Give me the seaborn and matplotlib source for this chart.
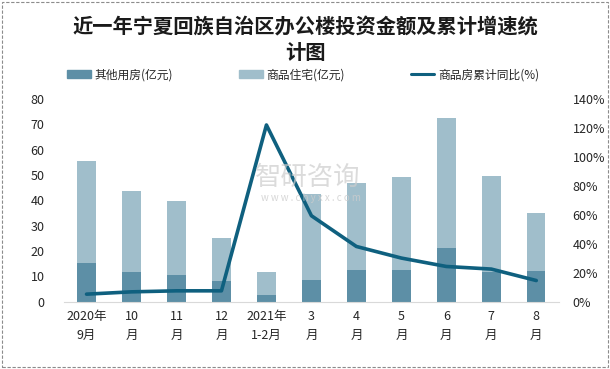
import numpy as np
import pandas as pd
import matplotlib
matplotlib.use('Agg')
import matplotlib.pyplot as plt
import seaborn as sns
from matplotlib.patches import Patch, Rectangle
from matplotlib.lines import Line2D

# dados
meses = ['2020年\n9月', '10\n月', '11\n月', '12\n月', '2021年\n1-2月',
         '3\n月', '4\n月', '5\n月', '6\n月', '7\n月', '8\n月']
outros = [15.4, 11.8, 10.7, 8.3, 2.8, 8.7, 12.6, 12.6, 21.3, 11.6, 12.2]
residencial = [40.2, 32.0, 29.2, 17.0, 9.0, 33.9, 34.2, 36.7, 51.3, 38.1, 22.9]
crescimento = [5.3, 6.9, 7.6, 7.6, 122.0, 59.4, 38.2, 30.2, 24.4, 22.6, 14.7]

sns.set_style("white")
plt.rcParams['font.family'] = ['Noto Sans CJK SC', 'DejaVu Sans']

cor_escura = '#5D8FA6'
cor_clara = '#A0BECB'
cor_linha = '#0F607F'

data = pd.DataFrame({'mes': meses, 'outros': outros, 'residencial': residencial})
data['total'] = data['outros'] + data['residencial']

fig = plt.figure(figsize=(6.1, 3.69), dpi=100)
ax = fig.add_axes([0.105, 0.182, 0.811, 0.550])

sns.barplot(data=data, x='mes', y='total', color=cor_clara, width=0.41,
            saturation=1, linewidth=0, ax=ax)
sns.barplot(data=data, x='mes', y='outros', color=cor_escura, width=0.41,
            saturation=1, linewidth=0, ax=ax)
ax.set_ylim(0, 80)
ax.set_yticks(range(0, 81, 10))
ax.set_xlim(-0.5, len(meses) - 0.5)
ax.set_xlabel('')
ax.set_ylabel('')
for s in ['top', 'left', 'right']:
    ax.spines[s].set_visible(False)
ax.spines['bottom'].set_color('#D9D9D9')
ax.tick_params(axis='y', length=0, labelsize=9, pad=14)
ax.tick_params(axis='x', length=0, labelsize=9, pad=6)
for t in ax.get_xticklabels():
    t.set_linespacing(1.6)

ax2 = ax.twinx()
sns.lineplot(x=np.arange(len(meses)), y=crescimento, color=cor_linha,
             linewidth=2.6, ax=ax2)
ax2.set_ylim(0, 140)
ax2.set_yticks(range(0, 141, 20))
ax2.set_yticklabels([f'{v}%' for v in range(0, 141, 20)])
ax2.tick_params(axis='y', length=0, labelsize=9, pad=10)
for s in ['top', 'left', 'right', 'bottom']:
    ax2.spines[s].set_visible(False)

# marca d'água
fig.text(0.505, 0.518, '智研咨询', fontsize=19, color='#CDCDCD', alpha=0.7,
         ha='center', va='center')
fig.text(0.51, 0.463, 'w w w . c h y x x . c o m', fontsize=7, color='#CDCDCD',
         alpha=0.8, ha='center', va='center')

fig.text(0.5, 0.893, '近一年宁夏回族自治区办公楼投资金额及累计增速统\n计图',
         ha='center', va='center', fontsize=14.6, fontweight='bold',
         linespacing=1.35, color='#1A1A1A')

handles = [Patch(color=cor_escura), Patch(color=cor_clara),
           Line2D([0], [0], color=cor_linha, linewidth=2.2)]
fig.legend(handles, ['其他用房(亿元)', '商品住宅(亿元)', '商品房累计同比(%)'],
           loc='center', bbox_to_anchor=(0.497, 0.797), ncol=3, frameon=False,
           fontsize=8.5, handlelength=2.0, handleheight=0.6, handletextpad=0.3,
           columnspacing=5.6)

fig.patches.append(Rectangle((0.004, 0.006), 0.992, 0.988, transform=fig.transFigure,
                             fill=False, edgecolor='#8C8C8C', linewidth=0.8,
                             linestyle=(0, (3, 1.5))))

fig.savefig('out.png', dpi=100)
